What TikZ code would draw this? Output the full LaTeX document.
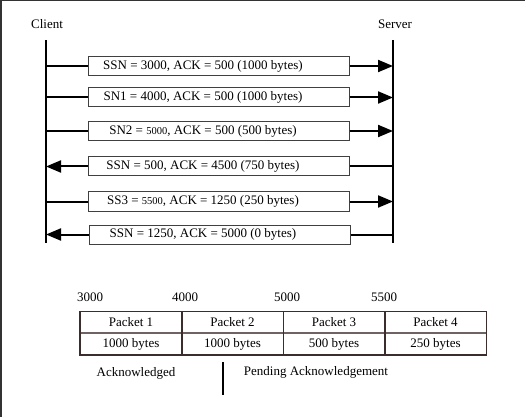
\documentclass[tikz,border=0pt]{standalone}
\usepackage{fontspec}
\setmainfont{Liberation Serif}
\usetikzlibrary{arrows.meta}
\definecolor{frame}{HTML}{333333}
\definecolor{tbl}{HTML}{3C2D2D}
\definecolor{tblmid}{HTML}{6E6262}
\begin{document}
\begin{tikzpicture}[x=1pt,y=-1pt,
  every node/.style={font=\fontsize{13}{15}\selectfont, inner sep=0pt},
  lifeline/.style={line width=2pt, black},
  msgbox/.style={draw=black!75, line width=1pt, fill=white, minimum width=261pt, minimum height=19pt},
  msgline/.style={line width=2pt, black},
  msgarrow/.style={line width=2pt, black, -{Triangle[length=15pt,width=12pt]}},
  cell/.style={minimum width=101.5pt, minimum height=21.5pt},
  small/.style={font=\fontsize{10.5}{12}\selectfont}
]
\useasboundingbox (0,0) rectangle (525,417);
\fill[white] (0,0) rectangle (525,417);
\draw[frame, line width=1.5pt] (0.75,417) -- (0.75,0.75) -- (525,0.75);

% actors
\node (client) at (47,24) {Client};
\node (server) at (395,24) {Server};
\coordinate (ctop) at (46,40);
\coordinate (cbot) at (46,243);
\coordinate (stop) at (393,40);
\coordinate (sbot) at (393,243);
\draw[lifeline] (ctop) -- (cbot);
\draw[lifeline] (stop) -- (sbot);

% rows
\foreach \i/\y in {1/66,2/97.5,3/131,4/166.5,5/201.5,6/234.5}{
  \coordinate (c\i) at (46,\y);
  \coordinate (s\i) at (393,\y);
}
\node[msgbox] (b1) at (218.5,66) {};
\node[msgbox] (b2) at (218.5,97.5) {};
\node[msgbox] (b3) at (218.5,131) {};
\node[msgbox] (b4) at (218.5,166.5) {};
\node[msgbox] (b5) at (218.5,201.5) {};
\node[msgbox] (b6) at (219.5,234.5) {};

\node (t1) at (203,66) {SSN = 3000, ACK = 500 (1000 bytes)};
\node (t2) at (203,97.5) {SN1 = 4000, ACK = 500 (1000 bytes)};
\node (t3) at (203,131) {SN2 = {\fontsize{10.5}{12}\selectfont 5000}, ACK = 500 (500 bytes)};
\node (t4) at (203,166.5) {SSN = 500, ACK = 4500 (750 bytes)};
\node (t5) at (203,201.5) {SS3 = {\fontsize{10.5}{12}\selectfont 5500}, ACK = 1250 (250 bytes)};
\node (t6) at (203,234.5) {SSN = 1250, ACK = 5000 (0 bytes)};

% client -> server
\foreach \i in {1,2,3,5}{
  \draw[msgline] (c\i) -- (b\i.west);
  \draw[msgarrow] (b\i.east) -- (s\i);
}
% server -> client
\foreach \i in {4,6}{
  \draw[msgline] (s\i) -- (b\i.east);
  \draw[msgarrow] (b\i.west) -- (c\i);
}

% sequence numbers
\node (n3000) at (90,297.5) {3000};
\node (n4000) at (185,297.5) {4000};
\node (n5000) at (287,297.5) {5000};
\node (n5500) at (384,297.5) {5500};

% table
\node[cell] (p1) at (131,322.5) {Packet 1};
\node[cell] (p2) at (232.5,322.5) {Packet 2};
\node[cell] (p3) at (334,322.5) {Packet 3};
\node[cell] (p4) at (435.5,322.5) {Packet 4};
\node[cell] (q1) at (131,344) {1000 bytes};
\node[cell] (q2) at (232.5,344) {1000 bytes};
\node[cell] (q3) at (334,344) {500 bytes};
\node[cell] (q4) at (435.5,344) {250 bytes};
\draw[tblmid, line width=1.8pt] (q1.north west) -- (q4.north east);
\draw[tbl, line width=1.2pt] (p1.north west) rectangle (q4.south east);
\draw[tbl, line width=1.2pt] (p1.north east) -- (q1.south east);
\draw[tbl, line width=1.2pt] (p2.north east) -- (q2.south east);
\draw[tbl, line width=1.2pt] (p3.north east) -- (q3.south east);

% legend
\node (ack) at (136,373) {Acknowledged};
\coordinate (bartop) at (223,362);
\coordinate (barbot) at (223,395);
\draw[line width=2pt] (bartop) -- (barbot);
\node (pend) at (316,372) {Pending Acknowledgement};
\end{tikzpicture}
\end{document}
